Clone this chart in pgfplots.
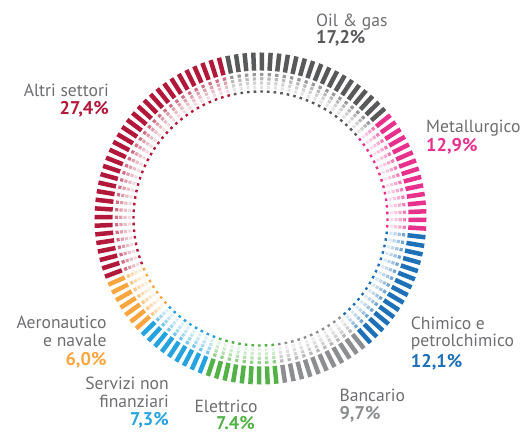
\documentclass[border=0pt]{standalone}
\usepackage{pgfplots}
\pgfplotsset{compat=1.18}
\usepackage{pgfplotstable}
\usepackage{fontspec}
\setmainfont{PT Sans}
\definecolor{cOil}{RGB}{88,89,91}
\definecolor{cMet}{RGB}{231,49,140}
\definecolor{cChi}{RGB}{30,112,183}
\definecolor{cBan}{RGB}{140,142,145}
\definecolor{cEle}{RGB}{82,178,72}
\definecolor{cSer}{RGB}{36,163,222}
\definecolor{cAer}{RGB}{250,166,64}
\definecolor{cAlt}{RGB}{178,24,58}
\definecolor{txt}{RGB}{109,110,113}
% one row per dash: angle (deg) and sector index
% 0 Oil & gas 17.2, 1 Metallurgico 12.9, 2 Chimico 12.1, 3 Bancario 9.7,
% 4 Elettrico 7.4, 5 Servizi 7.3, 6 Aeronautico 6.0, 7 Altri 27.4
\pgfplotstableread[row sep=\\]{
a c\\
101.5 0\\ 98.5 0\\ 95.5 0\\ 92.5 0\\ 89.5 0\\ 86.5 0\\ 83.5 0\\ 80.5 0\\ 77.5 0\\ 74.5 0\\ 71.5 0\\
68.5 0\\ 65.5 0\\ 62.5 0\\ 59.5 0\\ 56.5 0\\ 53.5 0\\ 50.5 0\\ 47.5 0\\ 44.5 0\\ 41.5 0\\
38.5 1\\ 35.5 1\\ 32.5 1\\ 29.5 1\\ 26.5 1\\ 23.5 1\\ 20.5 1\\ 17.5 1\\ 14.5 1\\ 11.5 1\\ 8.5 1\\ 5.5 1\\ 2.5 1\\ -0.5 1\\ -3.5 1\\
-6.5 2\\ -9.5 2\\ -12.5 2\\ -15.5 2\\ -18.5 2\\ -21.5 2\\ -24.5 2\\ -27.5 2\\ -30.5 2\\ -33.5 2\\ -36.5 2\\ -39.5 2\\ -42.5 2\\ -45.5 2\\ -48.5 2\\
-51.5 3\\ -54.5 3\\ -57.5 3\\ -60.5 3\\ -63.5 3\\ -66.5 3\\ -69.5 3\\ -72.5 3\\ -75.5 3\\ -78.5 3\\ -81.5 3\\
-84.5 4\\ -87.5 4\\ -90.5 4\\ -93.5 4\\ -96.5 4\\ -99.5 4\\ -102.5 4\\ -105.5 4\\ -108.5 4\\
-111.5 5\\ -114.5 5\\ -117.5 5\\ -120.5 5\\ -123.5 5\\ -126.5 5\\ -129.5 5\\ -132.5 5\\ -135.5 5\\
-138.5 6\\ -141.5 6\\ -144.5 6\\ -147.5 6\\ -150.5 6\\ -153.5 6\\ -156.5 6\\
-159.5 7\\ -162.5 7\\ -165.5 7\\ -168.5 7\\ -171.5 7\\ -174.5 7\\ -177.5 7\\ -180.5 7\\ -183.5 7\\ -186.5 7\\ -189.5 7\\
-192.5 7\\ -195.5 7\\ -198.5 7\\ -201.5 7\\ -204.5 7\\ -207.5 7\\ -210.5 7\\ -213.5 7\\ -216.5 7\\ -219.5 7\\ -222.5 7\\
-225.5 7\\ -228.5 7\\ -231.5 7\\ -234.5 7\\ -237.5 7\\ -240.5 7\\ -243.5 7\\ -246.5 7\\ -249.5 7\\ -252.5 7\\ -255.5 7\\
}\dashes
\pgfplotsset{
  colormap={full}{rgb255=(88,89,91) rgb255=(231,49,140) rgb255=(30,112,183) rgb255=(140,142,145) rgb255=(82,178,72) rgb255=(36,163,222) rgb255=(250,166,64) rgb255=(178,24,58)},
  colormap={t62}{rgb255=(151,152,153) rgb255=(240,127,184) rgb255=(116,166,210) rgb255=(184,185,187) rgb255=(148,207,142) rgb255=(119,198,235) rgb255=(252,200,137) rgb255=(207,112,133)},
  colormap={t42}{rgb255=(185,185,186) rgb255=(245,169,207) rgb255=(161,195,225) rgb255=(207,208,209) rgb255=(182,223,178) rgb255=(163,216,241) rgb255=(253,218,175) rgb255=(223,158,172)},
  colormap={t28}{rgb255=(208,209,209) rgb255=(248,197,223) rgb255=(192,215,235) rgb255=(223,223,224) rgb255=(207,233,204) rgb255=(194,229,246) rgb255=(254,230,202) rgb255=(233,190,200)},
  colormap={t16}{rgb255=(228,228,229) rgb255=(251,222,237) rgb255=(219,232,244) rgb255=(237,237,237) rgb255=(227,243,226) rgb255=(220,240,250) rgb255=(254,241,224) rgb255=(243,218,224)},
  dashrow/.style n args={3}{
    data cs=polar, only marks, scatter, point meta=explicit,
    point meta min=0, point meta max=7,
    colormap name=#1,
    scatter/use mapped color={draw=mapped color, fill=mapped color},
    mark=-, mark size=#2,
    mark options={line width=#3},
    visualization depends on={\thisrow{a} \as \ang},
    scatter/@pre marker code/.append style={/tikz/rotate=\ang},
  },
}
\tikzset{
  lab/.style={inner sep=0pt, font=\fontsize{17.6}{19}\selectfont, text=txt},
  pct/.style={inner sep=0pt, font=\fontsize{18.4}{19}\selectfont\bfseries},
}
\begin{document}
\begin{tikzpicture}
\begin{axis}[name=ax, x=1pt, y=1pt, xmin=-260.5, xmax=270.5, ymin=-215.5, ymax=218.5,
  hide axis, clip=false, scale only axis]
\addplot[dashrow={full}{9pt}{4.5pt}] table[x=a, y expr=157, meta=c] {\dashes};
\addplot[dashrow={t62}{1.6pt}{3.3pt}] table[x=a, y expr=144, meta=c] {\dashes};
\addplot[dashrow={t42}{1.6pt}{3.2pt}] table[x=a, y expr=139.7, meta=c] {\dashes};
\addplot[dashrow={t28}{1.6pt}{3.1pt}] table[x=a, y expr=135.5, meta=c] {\dashes};
\addplot[dashrow={t16}{1.6pt}{3.0pt}] table[x=a, y expr=131.3, meta=c] {\dashes};
\addplot[dashrow={full}{1.2pt}{2.6pt}] table[x=a, y expr=127, meta=c] {\dashes};
% labels
\node[lab, anchor=base west] at (axis cs:55.5,192) {Oil \& gas};
\node[pct, anchor=base west, text=cOil] at (axis cs:55.5,174.5) {17,2\%};
\node[lab, anchor=base east] at (axis cs:-151.5,122) {Altri settori};
\node[pct, anchor=base east, text=cAlt] at (axis cs:-151.5,104) {27,4\%};
\node[lab, anchor=base west] at (axis cs:165.5,85.5) {Metallurgico};
\node[pct, anchor=base west, text=cMet] at (axis cs:165.5,67) {12,9\%};
\node[lab, anchor=base west] at (axis cs:150.2,-111.5) {Chimico e};
\node[lab, anchor=base west] at (axis cs:150.2,-128.5) {petrolchimico};
\node[pct, anchor=base west, text=cChi] at (axis cs:150.2,-149.2) {12,1\%};
\node[lab, anchor=base west] at (axis cs:78.8,-183.2) {Bancario};
\node[pct, anchor=base west, text=cBan] at (axis cs:78.8,-201.5) {9,7\%};
\node[lab, anchor=base west] at (axis cs:-66.2,-194.5) {Elettrico};
\node[pct, anchor=base west, text=cEle] at (axis cs:-44.5,-211.3) {7.4\%};
\node[lab, anchor=base east] at (axis cs:-91.5,-170.8) {Servizi non};
\node[lab, anchor=base east] at (axis cs:-91.5,-189.5) {finanziari};
\node[pct, anchor=base east, text=cSer] at (axis cs:-91.5,-207.5) {7,3\%};
\node[lab, anchor=base east] at (axis cs:-153.8,-109.8) {Aeronautico};
\node[lab, anchor=base east] at (axis cs:-153.8,-128.5) {e navale};
\node[pct, anchor=base east, text=cAer] at (axis cs:-153.8,-147.5) {6,0\%};
\end{axis}
\pgfresetboundingbox
\path[use as bounding box] (ax.south west) rectangle (ax.north east);
\end{tikzpicture}
\end{document}
